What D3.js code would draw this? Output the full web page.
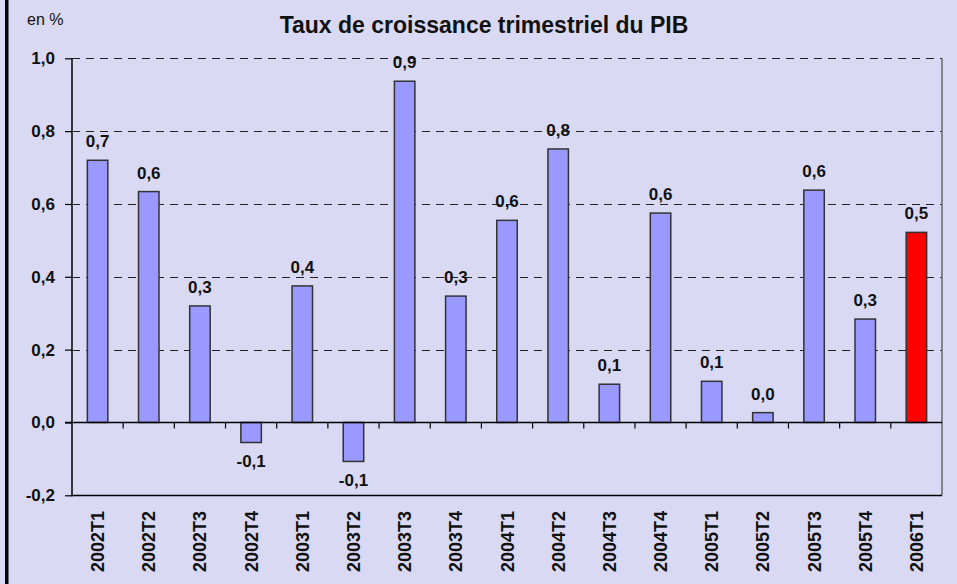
<!DOCTYPE html>
<html>
<head>
<meta charset="utf-8">
<script src="https://cdn.jsdelivr.net/npm/d3@7"></script>
<style>
  body { margin: 0; background: #d9d9f3; }
  svg { display: block; font-family: 'Liberation Sans', Arial, sans-serif; }
</style>
</head>
<body>
<div id="chart"></div>
<script>
// quarterly GDP growth, in %
const quarters = ['2002T1', '2002T2', '2002T3', '2002T4', '2003T1', '2003T2', '2003T3', '2003T4',
  '2004T1', '2004T2', '2004T3', '2004T4', '2005T1', '2005T2', '2005T3', '2005T4', '2006T1']
const growth = [0.72, 0.634, 0.32, -0.055, 0.375, -0.107, 0.937, 0.347,
  0.555, 0.751, 0.105, 0.575, 0.113, 0.027, 0.638, 0.284, 0.522]
const yTicks = [-0.2, 0, 0.2, 0.4, 0.6, 0.8, 1.0]
const highlight = '2006T1'

const width = 957
const height = 584
const margin = { top: 58.3, right: 15, bottom: 88.7, left: 72 }

const svg = d3.select('#chart').append('svg')
  .attr('width', width)
  .attr('height', height)

svg.append('rect').attr('width', width).attr('height', height).attr('fill', '#d9d9f3')
// thick left frame line
svg.append('rect').attr('x', 5).attr('y', 0).attr('width', 3.5).attr('height', height).attr('fill', '#000')

const x = d3.scaleBand()
  .domain(quarters)
  .range([margin.left, width - margin.right])
  .paddingInner(0.6)
  .paddingOuter(0.3)

const y = d3.scaleLinear()
  .domain([-0.2, 1.0])
  .range([height - margin.bottom, margin.top])

const fmt = v => d3.format('.1f')(v).replace('.', ',').replace('−', '-')

// dashed gridlines
svg.append('g')
  .selectAll('line')
  .data(yTicks.filter(t => t > 0))
  .join('line')
  .attr('x1', margin.left)
  .attr('x2', width - margin.right)
  .attr('y1', d => Math.round(y(d)) + 0.5)
  .attr('y2', d => Math.round(y(d)) + 0.5)
  .attr('stroke', '#222')
  .attr('stroke-width', 1)
  .attr('stroke-dasharray', '8,6')

// right plot border
svg.append('line')
  .attr('x1', width - margin.right).attr('x2', width - margin.right)
  .attr('y1', y(1.0)).attr('y2', y(-0.2))
  .attr('stroke', '#666').attr('stroke-width', 1.5)
// bottom plot border
svg.append('line')
  .attr('x1', margin.left).attr('x2', width - margin.right)
  .attr('y1', Math.round(y(-0.2)) + 0.5).attr('y2', Math.round(y(-0.2)) + 0.5)
  .attr('stroke', '#000').attr('stroke-width', 1.5)

// bars
svg.append('g')
  .selectAll('rect')
  .data(quarters)
  .join('rect')
  .attr('x', d => x(d))
  .attr('width', x.bandwidth())
  .attr('y', (d, i) => y(Math.max(0, growth[i])))
  .attr('height', (d, i) => Math.abs(y(growth[i]) - y(0)))
  .attr('fill', d => d === highlight ? '#ff0000' : '#9999ff')
  .attr('stroke', '#333')
  .attr('stroke-width', 1.5)

// value labels
svg.append('g')
  .selectAll('text')
  .data(quarters)
  .join('text')
  .attr('x', d => x(d) + x.bandwidth() / 2)
  .attr('y', (d, i) => growth[i] >= 0 ? y(growth[i]) - 13 : y(growth[i]) + 25)
  .attr('text-anchor', 'middle')
  .attr('font-size', 17)
  .attr('font-weight', 'bold')
  .attr('fill', '#111')
  .text((d, i) => fmt(growth[i]))

// y axis
const yAxis = svg.append('g')
  .attr('transform', `translate(${margin.left},0)`)
  .call(d3.axisLeft(y).tickValues(yTicks).tickSize(7).tickPadding(10).tickFormat(fmt))
yAxis.select('.domain').attr('stroke', '#000').attr('stroke-width', 1.5)
  .attr('d', `M0,${y(1.0)}V${y(-0.2) + 1}`)
yAxis.selectAll('.tick line').attr('stroke', '#000').attr('stroke-width', 1.2)
yAxis.selectAll('.tick text')
  .attr('font-size', 17)
  .attr('font-weight', 'bold')
  .attr('fill', '#111')
  .attr('font-family', "'Liberation Sans', Arial, sans-serif")

// zero line with ticks between categories
const zeroY = Math.round(y(0)) + 0.5
svg.append('line')
  .attr('x1', margin.left - 7).attr('x2', width - margin.right)
  .attr('y1', zeroY).attr('y2', zeroY)
  .attr('stroke', '#000').attr('stroke-width', 1.5)
const gap = x.paddingInner() * x.step() / 2
svg.append('g')
  .selectAll('line')
  .data(quarters.slice(1))
  .join('line')
  .attr('x1', d => x(d) - gap)
  .attr('x2', d => x(d) - gap)
  .attr('y1', zeroY)
  .attr('y2', zeroY + 6)
  .attr('stroke', '#000')
  .attr('stroke-width', 1.2)

// category labels, rotated
svg.append('g')
  .selectAll('text')
  .data(quarters)
  .join('text')
  .attr('transform', d => `translate(${x(d) + x.bandwidth() / 2 + 6.5},${511}) rotate(-90)`)
  .attr('text-anchor', 'end')
  .attr('font-size', 18)
  .attr('font-weight', 'bold')
  .attr('fill', '#111')
  .text(d => d)

// title and unit
svg.append('text')
  .attr('x', 484)
  .attr('y', 33)
  .attr('text-anchor', 'middle')
  .attr('font-size', 23)
  .attr('font-weight', 'bold')
  .attr('fill', '#111')
  .text('Taux de croissance trimestriel du PIB')

svg.append('text')
  .attr('x', 27)
  .attr('y', 25)
  .attr('font-size', 16)
  .attr('fill', '#111')
  .text('en %')
</script>
</body>
</html>
